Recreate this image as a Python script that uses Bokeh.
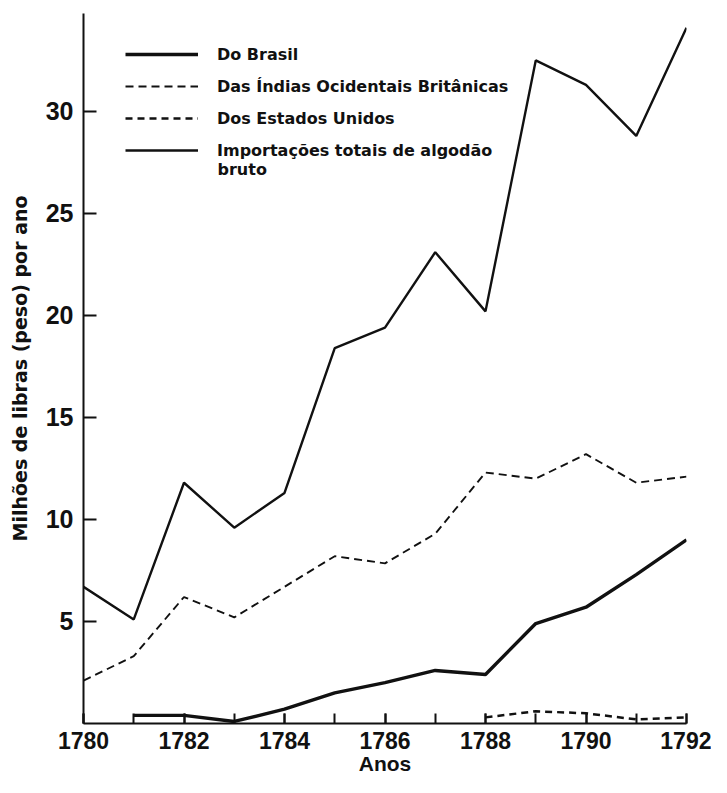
from bokeh.plotting import figure
from bokeh.models import (Legend, LegendItem, Label, FixedTicker,
                          SingleIntervalTicker, Range1d)
from bokeh.embed import file_html
from bokeh.resources import INLINE

# ---- data (milhões de libras-peso por ano) ----
years = [1780, 1781, 1782, 1783, 1784, 1785, 1786, 1787, 1788, 1789, 1790, 1791, 1792]
total = [6.7, 5.1, 11.8, 9.6, 11.3, 18.4, 19.4, 23.1, 20.2, 32.5, 31.3, 28.8, 34.1]
west_indies = [2.1, 3.3, 6.2, 5.2, 6.7, 8.2, 7.85, 9.3, 12.3, 12.0, 13.2, 11.8, 12.1]
brazil_years = [1781, 1782, 1783, 1784, 1785, 1786, 1787, 1788, 1789, 1790, 1791, 1792]
brazil = [0.4, 0.4, 0.1, 0.7, 1.5, 2.0, 2.6, 2.4, 4.9, 5.7, 7.3, 9.0]
us_years = [1788, 1789, 1790, 1791, 1792]
us = [0.3, 0.6, 0.5, 0.2, 0.3]
y_ticks = [5, 10, 15, 20, 25, 30]

labels = ["Do Brasil", "Das Índias Ocidentais Britânicas", "Dos Estados Unidos",
          "Importações totais de algodão"]
label_cont = "bruto"

FONT = "Liberation Sans"
FONT2 = "DejaVu Sans"
INK = "#111111"

p = figure(width=711, height=777, x_range=Range1d(1780, 1792), y_range=Range1d(0, 34.8),
           output_backend="svg", toolbar_location=None,
           min_border_left=83, min_border_right=25, min_border_top=13, min_border_bottom=40)
p.xgrid.visible = False
p.ygrid.visible = False
p.outline_line_color = None
p.background_fill_color = "white"
p.border_fill_color = "white"

r_br = p.line(brazil_years, brazil, line_color=INK, line_width=3.4)
r_wi = p.line(years, west_indies, line_color=INK, line_width=1.9, line_dash="8 5")
r_us = p.line(us_years, us, line_color=INK, line_width=2.5, line_dash="7 5")
r_tot = p.line(years, total, line_color=INK, line_width=2.4)

# axes
for ax in (p.xaxis[0], p.yaxis[0]):
    ax.axis_line_color = INK
    ax.axis_line_width = 2
    ax.major_tick_line_color = INK
    ax.major_tick_line_width = 2
    ax.minor_tick_line_color = INK
    ax.minor_tick_line_width = 2
    ax.major_label_text_font = FONT
    ax.major_label_text_font_style = "bold"
    ax.major_label_text_color = INK
    ax.axis_label_text_font_style = "bold"
    ax.axis_label_text_color = INK

xa = p.xaxis[0]
xa.ticker = SingleIntervalTicker(interval=2, num_minor_ticks=2)
xa.major_tick_in = 10
xa.major_tick_out = 0
xa.minor_tick_in = 10
xa.minor_tick_out = 0
xa.major_label_standoff = 8
xa.major_label_text_font_size = "23px"
xa.axis_label = "Anos"
xa.axis_label_text_font = FONT
xa.axis_label_text_font_size = "21px"
xa.axis_label_standoff = 0

ya = p.yaxis[0]
ya.ticker = FixedTicker(ticks=y_ticks, minor_ticks=[])
ya.major_tick_in = 13
ya.major_tick_out = 0
ya.major_label_standoff = 10
ya.major_label_text_font_size = "25px"
ya.axis_label = "Milhões de libras (peso) por ano"
ya.axis_label_text_font = FONT2
ya.axis_label_text_font_size = "19px"
ya.axis_label_standoff = 12

legend = Legend(items=[LegendItem(label=labels[0], renderers=[r_br]),
                       LegendItem(label=labels[1], renderers=[r_wi]),
                       LegendItem(label=labels[2], renderers=[r_us]),
                       LegendItem(label=labels[3], renderers=[r_tot])],
                location=(42, 562), padding=0, margin=0, spacing=10,
                glyph_width=73, glyph_height=22, label_height=22, label_standoff=19,
                label_text_font=FONT2, label_text_font_style="bold",
                label_text_font_size="16px", label_text_color=INK,
                border_line_color=None, background_fill_alpha=0)
p.add_layout(legend, "center")

p.add_layout(Label(x=134, y=554, x_units="screen", y_units="screen", text=label_cont,
                   text_font=FONT2, text_font_style="bold", text_font_size="16px",
                   text_color=INK, text_baseline="middle"))

open("out.html", "w").write(file_html(p, INLINE))
